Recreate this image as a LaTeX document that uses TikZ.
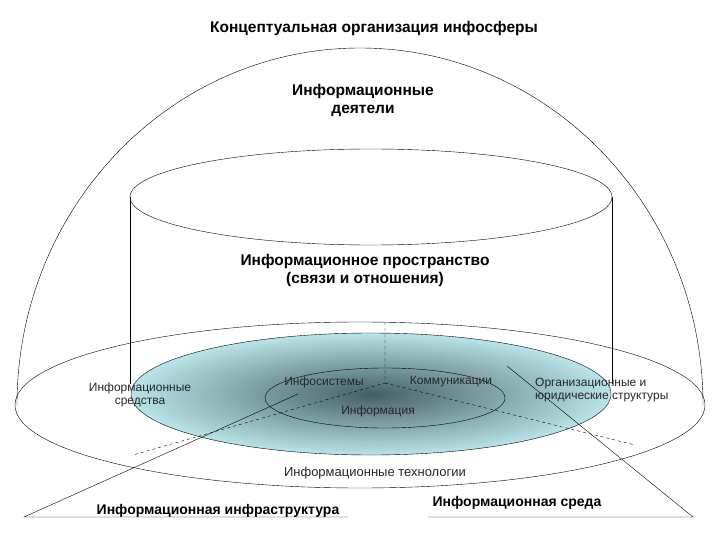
\documentclass[tikz,border=0pt]{standalone}
\usepackage{fontspec}
\setmainfont{Liberation Sans}
\definecolor{cin}{RGB}{70,95,98}
\definecolor{cout}{RGB}{185,228,232}
\begin{document}
\begin{tikzpicture}[x=1pt,y=-1pt,
  lbl/.style={font=\fontsize{15.5}{18}\selectfont\bfseries,align=center,inner sep=0},
  sm/.style={font=\fontsize{12}{13.5}\selectfont,align=center,inner sep=0,text=black!85},
  bl/.style={font=\fontsize{14}{16}\selectfont\bfseries,inner sep=0}]
\useasboundingbox (0,0) rectangle (720,540);
% dome
\draw (17,405) arc[start angle=180,end angle=360,x radius=343,y radius=357];
% outer ellipse
\draw (360,405) ellipse[x radius=345,y radius=83];
% cyan ellipse
\shade[inner color=cin, outer color=cout] (371,394) ellipse[x radius=240,y radius=61];
\draw (371,394) ellipse[x radius=240,y radius=61];
% inner ellipse
\draw (385,398) ellipse[x radius=120,y radius=30];
% cylinder
\draw[fill=white] (371,197) ellipse[x radius=241,y radius=48];
\draw (130,197) -- (130,384);
\draw (612,197) -- (612,384);
% dashed
\coordinate (c) at (385,383);
\coordinate (ct) at (385,322);
\coordinate (cl) at (133,455);
\coordinate (cr) at (635,445);
\draw[dashed] (ct) -- (c) -- (cl);
\draw[dashed] (c) -- (cr);
% solid lines
\coordinate (l0) at (24,517); \coordinate (l1) at (298,394); \coordinate (l2) at (348,517);
\coordinate (r0) at (507,366); \coordinate (r1) at (693,517); \coordinate (r2) at (428,517);
\draw (l1) -- (l0) -- (l2);
\draw (r0) -- (r1) -- (r2);
% texts
\node[lbl] (t) at (374,28) {Концептуальная организация инфосферы};
\node[lbl] (a) at (363,100) {Информационные\\деятели};
\node[lbl] (b) at (365,270) {Информационное пространство\\(связи и отношения)};
\node[sm] (s1) at (140,395) {Информационные\\средства};
\node[sm] (s2) at (324,382) {Инфосистемы};
\node[sm] (s3) at (451,382) {Коммуникации};
\node[sm] (s4) at (378,411) {Информация};
\node[sm,align=left,anchor=west] (s5) at (535,390) {Организационные и\\юридические структуры};
\node[sm,font=\fontsize{13}{15}\selectfont] (s6) at (375,473) {Информационные технологии};
\node[bl] (b1) at (218,511) {Информационная инфраструктура};
\node[bl] (b2) at (517,503) {Информационная среда};
\end{tikzpicture}
\end{document}
